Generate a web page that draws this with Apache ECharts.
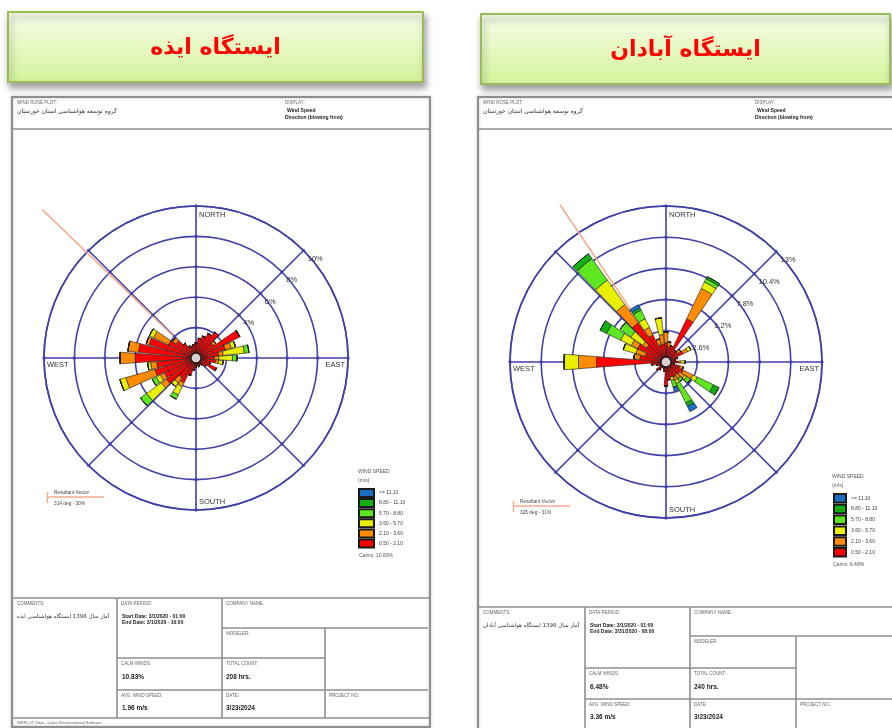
<!DOCTYPE html>
<html><head><meta charset="utf-8">
<script src="https://cdn.jsdelivr.net/npm/echarts@6/dist/echarts.min.js"></script>
<style>html,body{margin:0;padding:0;background:#fff}#c{width:892px;height:728px}</style>
</head><body><div id="c"></div>
<script>
// ---------- DATA ----------
const directions = ['0','10','20','30','40','50','60','70','80','90','100','110','120','130','140','150','160','170','180','190','200','210','220','230','240','250','260','270','280','290','300','310','320','330','340','350'];
const speedClasses = ['0.50 - 2.10','2.10 - 3.60','3.60 - 5.70','5.70 - 8.80','8.80 - 11.10','>= 11.10'];
const classColors = ['#ff0000','#ff8c00','#e8f000','#5ee61e','#12b012','#1a6fc4'];

// Izeh station (percent of time), per direction
const izehC1 = [1.0,1.3,1.5,1.8,2.1,1.4,3.2,2.0,1.5,1.2,1.3,1.0,1.5,0.8,0.6,0.5,0.6,0.5,0.6,0.8,1.2,1.8,1.6,2.4,2.3,2.8,2.6,4.0,3.8,3.2,2.0,1.6,1.2,0.9,0.8,0.9];
const izehC2 = [0,0,0,0,0,0.2,0,0.4,0.3,0.3,0.2,0,0,0,0,0,0,0,0,0,0,0.3,0.4,0.4,0.3,2.0,0.4,1.0,0.7,0.2,1.1,0.3,0,0,0,0];
const izehC3 = [0,0,0,0,0,0,0,0.3,1.4,0.9,0.3,0,0,0,0,0,0,0,0,0,0,0.6,0.3,1.2,0.3,0.4,0.2,0,0,0,0.3,0,0,0,0,0];
const izehC4 = [0,0,0,0,0,0,0,0,0.3,0.3,0,0,0,0,0,0,0,0,0,0,0,0.3,0,0.5,0.3,0,0,0,0,0,0,0,0,0,0,0];
const izehC5 = [0,0,0,0,0,0,0,0,0,0,0,0,0,0,0,0,0,0,0,0,0,0,0,0,0,0,0,0,0,0,0,0,0,0,0,0];
const izehC6 = [0,0,0,0,0,0,0,0,0,0,0,0,0,0,0,0,0,0,0,0,0,0,0,0,0,0,0,0,0,0,0,0,0,0,0,0];

// Abadan station
const abadanC1 = [1.6,1.3,1.4,4.0,1.2,1.2,1.6,1.0,0.8,1.0,0.7,1.2,1.6,1.4,1.3,1.4,1.3,1.5,2.0,0.8,0.6,0.5,0.8,1.0,0.6,0.8,1.2,5.8,2.2,1.8,2.6,2.0,4.0,2.5,1.5,1.5];
const abadanC2 = [0.9,0.4,0,2.8,0,0.3,0.4,0,0,0.2,0,0.3,0.9,0.5,0.4,0.3,0,0,0,0,0,0,0,0,0,0,0,1.5,0.5,0.8,0.6,0.4,1.9,0.7,0.5,0.8];
const abadanC3 = [0,0,0,0.6,0,0,0.3,0,0,0.4,0,0,0.4,0.2,0,0.3,0.3,0,0,0,0,0,0,0,0,0,0,1.2,0,1.1,1.0,1.2,2.5,0.8,0,1.4];
const abadanC4 = [0,0,0,0.3,0,0,0,0,0,0,0,0,1.5,0.4,0.3,1.8,0.6,0,0,0,0,0,0,0,0,0,0,0,0,0,1.3,1.1,2.2,0.8,0,0];
const abadanC5 = [0,0,0,0.2,0,0,0,0,0,0,0,0,0.5,0,0,0.3,0,0,0,0,0,0,0,0,0,0,0,0,0,0,0.6,0,0.5,0.2,0,0];
const abadanC6 = [0,0,0,0,0,0,0,0,0,0,0,0,0,0,0,0.5,0.3,0,0,0,0,0,0,0,0,0,0,0,0,0,0,0,0,0.3,0,0];

const izehRingTicks = [2,4,6,8,10];
const abadanRingTicks = [2.6,5.2,7.8,10.4,13];
const spokeAngles = [0,45,90,135,180,225,270,315];
const izehResultant = 314, abadanResultant = 326;
const izehInfo = {title:'ایستگاه ایذه', calms:'10.83%', count:'208 hrs.', avg:'1.96 m/s', vector:'314 deg - 30%',
  comment:'آمار سال 1398 ایستگاه هواشناسی ایذه', start:'Start Date: 3/1/2020 - 01:00', end:'End Date: 3/1/2020 - 16:00', date:'3/23/2024'};
const abadanInfo = {title:'ایستگاه آبادان', calms:'6.48%', count:'240 hrs.', avg:'3.36 m/s', vector:'326 deg - 31%',
  comment:'آمار سال 1398 ایستگاه هواشناسی آبادان', start:'Start Date: 3/1/2020 - 01:00', end:'End Date: 3/31/2020 - 08:00', date:'3/23/2024'};

// ---------- LAYOUT ----------
const gridColor = '#4040a8';
const FONT = 'Liberation Sans, Arial, sans-serif';
const AR = 'DejaVu Sans, sans-serif';
const roseL = {cx:196, cy:358, R:152, vecR:214};
const roseR = {cx:666, cy:362, R:156, vecR:190};

function T(x,y,text,o){ const s = Object.assign({text, fill:'#666', fontSize:4.5, fontFamily:FONT}, o||{});
  if (s.align) s.textAlign = s.align; if (s.verticalAlign) s.textVerticalAlign = s.verticalAlign;
  return {type:'text', x, y, z:10, style:s}; }
function Ln(x1,y1,x2,y2,o){ return {type:'line', z:1, shape:{x1,y1,x2,y2}, style:Object.assign({stroke:'#8f8f8f', lineWidth:1.6}, o||{})}; }

const g = [];
function titleBox(x,y,w,h,text){
  g.push({type:'rect', z:2, shape:{x,y,width:w,height:h},
    style:{fill:new echarts.graphic.LinearGradient(0,0,0,1,[{offset:0,color:'#f8fdea'},{offset:1,color:'#d4f39a'}]),
      stroke:'#9bbb59', lineWidth:2, shadowBlur:7, shadowOffsetX:2, shadowOffsetY:5, shadowColor:'rgba(0,0,0,0.38)'}});
  g.push(T(x+w/2, y+h/2+1, text, {fill:'#ff0000', fontSize:22, fontWeight:'bold', fontFamily:AR, align:'center', verticalAlign:'middle'}));
}
titleBox(8,12,415,70, izehInfo.title);
titleBox(481,14,409,70, abadanInfo.title);

function page(p, info){
  g.push({type:'rect', z:1, shape:{x:p.x0,y:p.y0,width:p.x1-p.x0,height:p.y1-p.y0},
    style:{fill:'none', stroke:'#8f8f8f', lineWidth:2, shadowBlur:3, shadowColor:'rgba(0,0,0,0.25)'}});
  g.push(Ln(p.x0,p.hb,p.x1,p.hb));
  g.push(T(p.x0+5,p.y0+3,'WIND ROSE PLOT:'));
  g.push(T(p.x0+5,p.y0+11,'گروه توسعه هواشناسی استان خوزستان',{fill:'#333', fontSize:6, fontFamily:AR}));
  g.push(T(p.dx,p.y0+3,'DISPLAY:'));
  g.push(T(p.dx+2,p.y0+11,'Wind Speed',{fill:'#222', fontSize:5, fontWeight:'bold'}));
  g.push(T(p.dx,p.y0+18,'Direction (blowing from)',{fill:'#222', fontSize:5, fontWeight:'bold'}));
  const [c0,c1,c2,c3,c4] = p.cols, [r0,r1,r2,r3,r4] = p.rows;
  g.push(Ln(p.x0,r0,p.x1,r0)); g.push(Ln(c1,r0,c1,r4)); g.push(Ln(c2,r0,c2,r4));
  g.push(Ln(c2,r1,c4,r1)); g.push(Ln(c1,r2,c3,r2)); g.push(Ln(c1,r3,c4,r3)); g.push(Ln(c3,r1,c3,r4));
  g.push(Ln(p.x0,r4,p.x1,r4));
  g.push(T(c0+4,r0+3,'COMMENTS:'));
  g.push(T(c0+4,r0+16,info.comment,{fill:'#333', fontSize:5.5, fontFamily:AR}));
  g.push(T(c1+4,r0+3,'DATA PERIOD:'));
  g.push(T(c1+5,r0+16,info.start,{fill:'#222', fontSize:5, fontWeight:'bold'}));
  g.push(T(c1+5,r0+22,info.end,{fill:'#222', fontSize:5, fontWeight:'bold'}));
  g.push(T(c2+4,r0+3,'COMPANY NAME:'));
  g.push(T(c2+4,r1+3,'MODELER:'));
  g.push(T(c1+4,r2+3,'CALM WINDS:'));
  g.push(T(c1+5,r2+16,info.calms,{fill:'#222', fontSize:6.5, fontWeight:'bold'}));
  g.push(T(c2+4,r2+3,'TOTAL COUNT:'));
  g.push(T(c2+4,r2+16,info.count,{fill:'#222', fontSize:6.5, fontWeight:'bold'}));
  g.push(T(c1+4,r3+3,'AVG. WIND SPEED:'));
  g.push(T(c1+5,r3+15,info.avg,{fill:'#222', fontSize:6.5, fontWeight:'bold'}));
  g.push(T(c2+4,r3+3,'DATE:'));
  g.push(T(c2+4,r3+15,info.date,{fill:'#222', fontSize:6.5, fontWeight:'bold'}));
  g.push(T(c3+4,r3+3,'PROJECT NO.:'));
  g.push(T(c0+4,r4+3,'WRPLOT View - Lakes Environmental Software',{fontSize:4}));
}
page({x0:12,y0:97,x1:430,y1:727,hb:129,dx:285,cols:[13,117,222,325,428],rows:[598,628,658,690,718]}, izehInfo);
page({x0:478,y0:97,x1:905,y1:740,hb:129,dx:755,cols:[479,585,690,796,905],rows:[607,636,668,699,740]}, abadanInfo);

function roseDecor(r, info, lg){
  const lbl = {fill:'#333', fontSize:7.5};
  g.push(T(r.cx+3, r.cy-r.R+5, 'NORTH', lbl));
  g.push(T(r.cx+3, r.cy+r.R-12, 'SOUTH', lbl));
  g.push(T(r.cx+r.R-3, r.cy+3, 'EAST', Object.assign({align:'right'},lbl)));
  g.push(T(r.cx-r.R+3, r.cy+3, 'WEST', lbl));
  g.push(Ln(lg.vx, lg.vy, lg.vx+57, lg.vy, {stroke:'#f6ab8e', lineWidth:1.5}));
  g.push(Ln(lg.vx+0.5, lg.vy-5, lg.vx+0.5, lg.vy+6, {stroke:'#f6ab8e', lineWidth:1.5}));
  g.push(T(lg.vx+7, lg.vy-7, 'Resultant Vector', {fill:'#444', fontSize:4.8}));
  g.push(T(lg.vx+7, lg.vy+4, info.vector, {fill:'#444', fontSize:4.8}));
  g.push(T(lg.lx, lg.ly-19, 'WIND SPEED', {fill:'#555', fontSize:5}));
  g.push(T(lg.lx, lg.ly-10, '(m/s)', {fill:'#555', fontSize:5}));
  g.push(T(lg.lx+1, lg.cy, 'Calms: '+info.calms, {fill:'#555', fontSize:5}));
}
roseDecor(roseL, izehInfo, {vx:47, vy:497, lx:358, ly:488, cy:553});
roseDecor(roseR, abadanInfo, {vx:513, vy:506, lx:832, ly:493, cy:562});

// ---------- ECHARTS ----------
const polar = [], angleAxis = [], radiusAxis = [], series = [];
function addRose(r, ticks, classes, stackName, resultant, fmt){
  const base = polar.length;
  polar.push({center:[r.cx,r.cy], radius:[0,r.R]});
  polar.push({center:[r.cx,r.cy], radius:[0,r.R]});
  polar.push({center:[r.cx,r.cy], radius:[0,r.vecR]});
  const maxR = ticks[ticks.length-1], step = ticks[0];
  const hide = {axisLine:{show:false}, axisTick:{show:false}, axisLabel:{show:false}, splitLine:{show:false}};
  angleAxis.push({polarIndex:base, type:'value', min:0, max:360, interval:45, startAngle:45, clockwise:true, z:1,
    axisLine:{show:true, lineStyle:{color:gridColor, width:1.6}}, axisTick:{show:false}, axisLabel:{show:false},
    splitLine:{show:true, lineStyle:{color:gridColor, width:1.6}}});
  angleAxis.push(Object.assign({polarIndex:base+1, type:'category', data:directions, startAngle:95, clockwise:true, boundaryGap:true}, hide));
  angleAxis.push(Object.assign({polarIndex:base+2, type:'value', min:0, max:360, startAngle:90, clockwise:true}, hide));
  radiusAxis.push({polarIndex:base, type:'value', min:0, max:maxR, interval:step, z:1,
    axisLine:{show:false}, axisTick:{show:false},
    axisLabel:{show:true, formatter:fmt, fontSize:7.5, color:'#333', fontFamily:FONT, margin:-6, align:'left', verticalAlign:'top'},
    splitLine:{show:true, lineStyle:{color:gridColor, width:1.6}}});
  radiusAxis.push(Object.assign({polarIndex:base+1, type:'value', min:0, max:maxR}, hide));
  radiusAxis.push(Object.assign({polarIndex:base+2, type:'value', min:0, max:1}, hide));
  const dots = [];
  ticks.forEach(t => spokeAngles.forEach(a => dots.push([t, a])));
  series.push({type:'scatter', coordinateSystem:'polar', polarIndex:base, data:dots, symbolSize:3.5,
    itemStyle:{color:gridColor}, silent:true, z:4});
  series.push({type:'line', coordinateSystem:'polar', polarIndex:base+2, data:[[0,resultant],[1,resultant]],
    symbol:'none', lineStyle:{color:'#f6ab8e', width:1.5}, silent:true, z:4});
  classes.forEach((arr,i) => series.push({type:'bar', coordinateSystem:'polar', polarIndex:base+1, name:speedClasses[i],
    stack:stackName, data:arr, barWidth:'88%', itemStyle:{color:classColors[i], borderColor:'#1a1a1a', borderWidth:0.6}, z:5}));
  series.push({type:'scatter', coordinateSystem:'polar', polarIndex:base+1, data:[[0,0]], symbolSize:10,
    itemStyle:{color:'#fff', borderColor:'#000', borderWidth:1.3}, silent:true, z:6});
}
addRose(roseL, izehRingTicks, [izehC1,izehC2,izehC3,izehC4,izehC5,izehC6], 'izeh', izehResultant,
  v => v === 0 ? '' : v + '%');
addRose(roseR, abadanRingTicks, [abadanC1,abadanC2,abadanC3,abadanC4,abadanC5,abadanC6], 'abadan', abadanResultant,
  v => v === 0 ? '' : (+v.toFixed(1)) + '%');

const legendOrder = speedClasses.slice().reverse();
const legBase = {data:legendOrder, orient:'vertical', icon:'rect', selectedMode:false, padding:0,
  textStyle:{fontSize:5, color:'#444', fontFamily:FONT}};
const chart = echarts.init(document.getElementById('c'), null, {renderer:'canvas'});
chart.setOption({
  backgroundColor:'#ffffff',
  animation:false,
  graphic:{elements:g},
  polar, angleAxis, radiusAxis, series,
  legend:[Object.assign({left:358, top:488, itemWidth:15, itemHeight:8, itemGap:0.1}, legBase),
          Object.assign({left:833, top:493, itemWidth:12, itemHeight:8.5, itemGap:0.3}, legBase)]
});
</script></body></html>
